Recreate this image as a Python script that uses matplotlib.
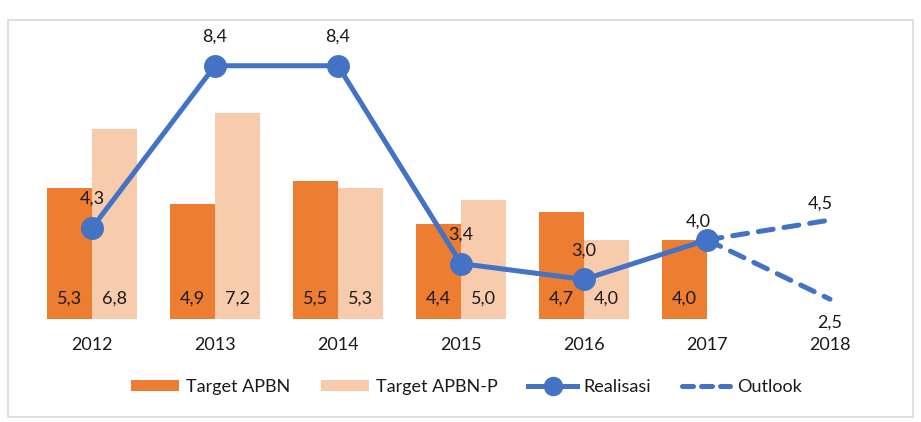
import matplotlib
matplotlib.use("Agg")
import matplotlib.pyplot as plt
from matplotlib.patches import Rectangle, Patch
from matplotlib.lines import Line2D

years = ["2012", "2013", "2014", "2015", "2016", "2017", "2018"]
target_apbn = [5.3, 4.9, 5.5, 4.4, 4.7, 4.0]
target_apbn_p = [6.8, 7.2, 5.3, 5.0, 4.0]
realisasi = [4.3, 8.4, 8.4, 3.4, 3.0, 4.0]
outlook_high = [4.0, 4.5]
outlook_low = [4.0, 2.5]

ORANGE = "#ED7D31"
LIGHT = "#F8CBAD"
BLUE = "#4472C4"
FONT = "Lato"
FS = 13

def fmt(v):
    return f"{v:.1f}".replace(".", ",")

fig = plt.figure(figsize=(9.21, 4.22), dpi=100)
fig.patch.set_facecolor("white")
fig.patches.append(Rectangle((8 / 921, 1 - 417 / 422), 905 / 921, 397 / 422,
                             transform=fig.transFigure, fill=False,
                             edgecolor="#D9D9D9", linewidth=1.2))

ax = fig.add_axes([30.5 / 921, 1 - 319 / 422, 861 / 921, 277 / 422])
ax.set_xlim(-0.5, 6.5)
ax.set_ylim(2.0, 9.0)
ymin = 2.0
w = 0.366

x_a = list(range(len(target_apbn)))
x_p = list(range(len(target_apbn_p)))
ax.bar([x - w / 2 for x in x_a], [v - ymin for v in target_apbn], width=w,
       bottom=ymin, color=ORANGE, zorder=2)
ax.bar([x + w / 2 for x in x_p], [v - ymin for v in target_apbn_p], width=w,
       bottom=ymin, color=LIGHT, zorder=2)

for x, v in zip(x_a, target_apbn):
    ax.annotate(fmt(v), (x - w / 2, ymin), xytext=(0, 15), textcoords="offset points",
                ha="center", va="center", fontsize=FS, family=FONT, color="#1a1a1a", zorder=5)
for x, v in zip(x_p, target_apbn_p):
    ax.annotate(fmt(v), (x + w / 2, ymin), xytext=(0, 15), textcoords="offset points",
                ha="center", va="center", fontsize=FS, family=FONT, color="#1a1a1a", zorder=5)

x_r = list(range(len(realisasi)))
ax.plot(x_r, realisasi, color=BLUE, lw=3.6, marker="o", markersize=15.5,
        zorder=4, solid_capstyle="round")
x_o = [5, 6]
for series in (outlook_high, outlook_low):
    ax.plot(x_o, series, color=BLUE, lw=3.6, dashes=(3, 2.2),
            dash_capstyle="round", zorder=3)

for x, v in zip(x_r[:-1], realisasi[:-1]):
    ax.annotate(fmt(v), (x, v), xytext=(0, 21), textcoords="offset points",
                ha="center", va="center", fontsize=FS, family=FONT, color="#1a1a1a",
                zorder=6, annotation_clip=False)
ax.annotate(fmt(outlook_high[0]), (5, outlook_high[0]), xytext=(-6, 13),
            textcoords="offset points", ha="center", va="center", fontsize=FS,
            family=FONT, color="#1a1a1a", zorder=6)
ax.annotate(fmt(outlook_high[1]), (6, outlook_high[1]), xytext=(-7, 11.5),
            textcoords="offset points", ha="center", va="center", fontsize=FS,
            family=FONT, color="#1a1a1a", zorder=6)
ax.annotate(fmt(outlook_low[1]), (6, outlook_low[1]), xytext=(0, -16.5),
            textcoords="offset points", ha="center", va="center", fontsize=FS,
            family=FONT, color="#1a1a1a", zorder=6, annotation_clip=False)

ax.set_xticks(range(len(years)))
ax.set_xticklabels(years, fontsize=FS, family=FONT, color="#1a1a1a")
ax.tick_params(axis="x", length=0, pad=13)
ax.set_yticks([])
for s in ax.spines.values():
    s.set_visible(False)

handles = [
    Patch(facecolor=ORANGE, edgecolor="none"),
    Patch(facecolor=LIGHT, edgecolor="none"),
    Line2D([0], [0], color=BLUE, lw=3.6, marker="o", markersize=13),
    Line2D([0], [0], color=BLUE, lw=3.6, dashes=(2.2, 1.6), dash_capstyle="round"),
]
labels = ["Target APBN", "Target APBN-P", "Realisasi", "Outlook"]
fig.legend(handles, labels, loc="center", bbox_to_anchor=(0.506, 1 - 387 / 422),
           ncol=4, frameon=False, prop={"family": FONT, "size": FS},
           handlelength=2.7, handleheight=0.55, handletextpad=0.35,
           columnspacing=1.7, labelcolor="#1a1a1a")

fig.savefig("out.png", dpi=100, facecolor="white")
